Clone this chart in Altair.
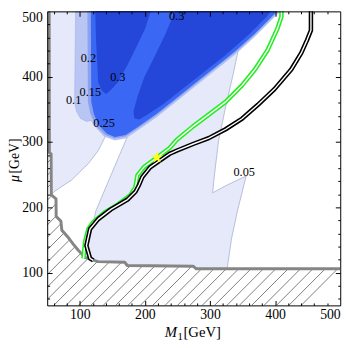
import altair as alt
import numpy as np
import pandas as pd

W, H = 299, 300
xs = alt.Scale(domain=[50, 500], nice=False, zero=False)
ys = alt.Scale(domain=[50, 500], nice=False, zero=False)

# ---------------- data (M1, mu in GeV) ----------------
lav_x = [50, 50, 327, 326, 333, 342, 349.5, 355.5, 339, 324, 304, 307, 313, 324, 334.5, 343.5, 348, 354]
lav_y = [502, 50, 50, 104, 152, 194, 224, 248, 240.3, 233, 222.3, 251, 301, 354, 399, 441, 466, 502]

wedge_x = [56, 60.5, 87.6, 113.2, 128.3, 140.3, 173.4, 125, 120.7, 113.2, 108.2, 105.7, 105.7, 56]
wedge_y = [219, 224, 242, 267, 286.7, 310.6, 309, 195.4, 177.4, 167, 147.5, 122, 100, 100]

c10_x = [93.6, 92.1, 95.2, 101.2, 110.2, 117.7, 122.2, 137.3, 153.8, 170.4, 188.5, 218.6, 248.7, 278.8, 308.9, 339, 369, 399, 410]
c10_y = [502, 361.5, 346.6, 336.1, 331.6, 333.1, 325.6, 309.1, 303.1, 306.1, 318.1, 339.1, 363, 387, 410.9, 434.9, 461.8, 491.8, 502]

c15_x = [111.7, 112.5, 116.2, 124.5, 138.8, 153.8, 170.4, 188.5, 218.6, 248.7, 278.8, 308.9, 339, 369, 399, 407]
c15_y = [502, 361.5, 343.6, 324.9, 310.6, 305.4, 308.4, 320.4, 341.4, 365.3, 389.2, 413.2, 437.1, 464.1, 494, 502]

c25_x = [117, 117.7, 121.8, 129.3, 141.8, 153.8, 170.4, 188.5, 218.6, 248.7, 278.8, 308.9, 339, 369, 399, 404.5]
c25_y = [502, 361.5, 342.5, 325.6, 312.6, 307.6, 310.6, 322.6, 343.6, 367.5, 391.5, 415.4, 439.4, 466.3, 496.3, 502]

c30a_x = [123.7, 125.2, 128.3, 134.3, 140.3, 147.8, 158.4, 173.4, 188.5, 200.5, 209.5]
c30a_y = [502, 451.4, 391.5, 378, 373.5, 379.5, 391.5, 418.4, 448.4, 473.8, 502]

c30b_x = [247.2, 230.6, 214, 199, 188.5, 182.4, 184, 191.5, 206.5, 229, 259.2, 293.8, 324, 361.5, 387, 394.5]
c30b_y = [502, 463.3, 429, 399, 369, 346.6, 336, 334.6, 343.6, 358.5, 382.5, 409.4, 433.4, 466.3, 491.8, 502]

hatch_x = [50, 53, 53.3, 56, 56.3, 63.5, 63.8, 71, 72.5, 83, 90.6, 98, 109, 128, 169, 173, 274, 279, 500]
hatch_y = [502, 502, 284, 282, 219, 213, 186, 179, 165, 153, 143, 134, 123, 117, 116, 111, 110, 106, 106]

green_x = [105.7, 108.2, 113.2, 120.7, 138.3, 158.4, 178, 185.5, 188.5, 198.5, 218.6, 238, 248.7, 274, 298, 324, 349.5, 369, 388.6, 403.7, 409.7, 409.7]
green_y = [122, 147.5, 167, 177.4, 192.4, 204.3, 219, 231, 249, 261.7, 276.2, 291, 303, 324, 342, 361.5, 387, 411, 441, 474, 492, 502]

black_x = [120.7, 115.8, 110.2, 115.8, 128.3, 147.8, 173.4, 185.5, 191, 196, 208, 223, 238, 248.7, 274, 298, 324, 349.5, 373.6, 399, 424.7, 440, 449, 455, 455, 455]
black_y = [119, 122, 141.5, 167, 182, 197, 212, 224, 234.3, 246.3, 261.3, 271.7, 282, 286.7, 297, 306, 319.6, 336, 357, 381, 411, 436, 456, 471, 492, 502]

star_x = [218.6]
star_y = [276.2]

lab_text = ["0.3", "0.2", "0.3", "0.1", "0.15", "0.25", "0.05"]
lab_x = [248.7, 113.2, 158.4, 90.6, 116.2, 137.3, 352.5]
lab_y = [493.3, 428.9, 399, 364.5, 376.5, 328.6, 253.7]

tick_labels = [100, 200, 300, 400, 500]
tick_all = list(range(60, 500, 20))
hatch_step = 19

# ---------------- helpers ----------------
SERIF = "Liberation Serif"
cond_size = {"condition": {"test": "datum.value % 100 === 0", "value": 5}, "value": 2.5}
top_label_shift = {"condition": {"test": "datum.value === 500", "value": 6}, "value": 0}

ax_lab_x = alt.Axis(orient="bottom", values=tick_labels, ticks=False, tickSize=0, labelFont=SERIF,
                    labelFontSize=14, labelColor="black", labelPadding=2, domain=True,
                    domainColor="black", domainWidth=1, grid=False, title=None, zindex=1)
ax_lab_y = alt.Axis(orient="left", values=tick_labels, ticks=False, tickSize=0, labelFont=SERIF,
                    labelFontSize=14, labelColor="black", labelPadding=5, domain=True,
                    labelOffset=top_label_shift,
                    domainColor="black", domainWidth=1, grid=False, title=None, zindex=1)
ax_tb = alt.Axis(orient="top", offset=-H, values=tick_all, labels=False, domain=False, grid=False,
                 tickColor="black", tickWidth=1, tickSize=cond_size, title=None, zindex=1)
ax_tt = alt.Axis(orient="bottom", offset=-H, values=tick_all, labels=False, domain=True,
                 domainColor="black", domainWidth=1, grid=False,
                 tickColor="black", tickWidth=1, tickSize=cond_size, title=None, zindex=1)
ax_tl = alt.Axis(orient="right", offset=-W, values=tick_all, labels=False, domain=False, grid=False,
                 tickColor="black", tickWidth=1, tickSize=cond_size, title=None, zindex=1)
ax_tr = alt.Axis(orient="left", offset=-W, values=tick_all, labels=False, domain=True,
                 domainColor="black", domainWidth=1, grid=False,
                 tickColor="black", tickWidth=1, tickSize=cond_size, title=None, zindex=1)


def frame(px, py):
    return pd.DataFrame({"x": px, "y": py, "o": list(range(len(px)))})


def poly(px, py, fill, stroke=None, sw=0.0, xaxis=None, yaxis=None):
    return alt.Chart(frame(px, py)).mark_line(
        fill=fill, stroke=stroke if stroke else fill, strokeWidth=sw if stroke else 0,
        clip=True, interpolate="linear", strokeJoin="round"
    ).encode(x=alt.X("x:Q", scale=xs, axis=xaxis), y=alt.Y("y:Q", scale=ys, axis=yaxis),
             order="o:Q")


def curve(px, py, color, width):
    return alt.Chart(frame(px, py)).mark_line(
        color=color, strokeWidth=width, clip=True, strokeJoin="round", strokeCap="butt"
    ).encode(x=alt.X("x:Q", scale=xs, axis=None), y=alt.Y("y:Q", scale=ys, axis=None),
             order="o:Q")


# ---------------- hatch segments clipped to hatched region ----------------
gx = np.array(hatch_x, dtype=float)
gy = np.array(hatch_y, dtype=float)
grid = np.linspace(50, 500, 9001)
gvals = np.interp(grid, gx, gy)
segs = []
for c in np.arange(-450 + 3, 450, hatch_step):
    if c >= 0:
        x0, y0 = 50.0, 50.0 + c
    else:
        x0, y0 = 50.0 - c, 50.0
    if x0 >= 500 or y0 >= 500:
        continue
    m = (grid >= x0) & (grid + c >= gvals)
    if not m.any():
        continue
    x1 = grid[np.argmax(m)]
    if x1 <= x0:
        continue
    segs.append({"x": x0, "y": y0, "x2": x1, "y2": x1 + c})
hatch_df = pd.DataFrame(segs)

# ---------------- layers ----------------
lav = poly(lav_x, lav_y, "#E5E9FA", stroke="#A9B0D2", sw=0.8, xaxis=ax_lab_x, yaxis=ax_lab_y)
wedge = poly(wedge_x, wedge_y, "#FFFFFF", stroke="#A9B0D2", sw=0.8, xaxis=ax_tb, yaxis=ax_tl)
b10 = poly(c10_x, c10_y, "#B9C5F3", stroke="#A3B2EC", sw=0.6, xaxis=ax_tt, yaxis=ax_tr)
b15 = poly(c15_x, c15_y, "#8AA2F0")
b25 = poly(c25_x, c25_y, "#3A67F3")
b30a = poly(c30a_x, c30a_y, "#2447D9")
b30b = poly(c30b_x, c30b_y, "#2447D9")

hatch_fill = alt.Chart(pd.DataFrame({"x": hatch_x, "y": hatch_y})).mark_area(
    color="white", clip=True, interpolate="linear"
).encode(x=alt.X("x:Q", scale=xs, axis=None), y=alt.Y("y:Q", scale=ys, axis=None), y2=alt.datum(50))

hatch_lines = alt.Chart(hatch_df).mark_rule(color="#6E6E6E", strokeWidth=0.9, clip=True).encode(
    x=alt.X("x:Q", scale=xs, axis=None), y=alt.Y("y:Q", scale=ys, axis=None), x2="x2:Q", y2="y2:Q")

hatch_edge = curve(hatch_x, hatch_y, "#858585", 3)

g1 = curve(green_x, green_y, "#22EE22", 4.6)
g2 = curve(green_x, green_y, "white", 1.4)
k1 = curve(black_x, black_y, "black", 4.6)
k2 = curve(black_x, black_y, "white", 1.4)

STAR = ("M0,-1L0.2245,-0.309L0.951,-0.309L0.363,0.118L0.588,0.809L0,0.382"
        "L-0.588,0.809L-0.363,0.118L-0.951,-0.309L-0.2245,-0.309Z")
star = alt.Chart(pd.DataFrame({"x": star_x, "y": star_y})).mark_point(
    shape=STAR, filled=True, color="#FFFF1A", size=170, opacity=1, clip=True
).encode(x=alt.X("x:Q", scale=xs, axis=None), y=alt.Y("y:Q", scale=ys, axis=None))

labels = alt.Chart(pd.DataFrame({"x": lab_x, "y": lab_y, "t": lab_text})).mark_text(
    font=SERIF, fontSize=12.5, color="black", align="center", baseline="middle", clip=True
).encode(x=alt.X("x:Q", scale=xs, axis=None), y=alt.Y("y:Q", scale=ys, axis=None), text="t:N")

# axis titles (real text, italic symbols as in the original)
tdf = pd.DataFrame({"a": [0]})
t_M = alt.Chart(tdf).mark_text(text="M", font=SERIF, fontSize=15, fontStyle="italic", align="left",
                               baseline="alphabetic", color="black").encode(x=alt.value(120), y=alt.value(332))
t_1 = alt.Chart(tdf).mark_text(text="1", font=SERIF, fontSize=11, align="left",
                               baseline="alphabetic", color="black").encode(x=alt.value(133), y=alt.value(335))
t_G = alt.Chart(tdf).mark_text(text="[GeV]", font=SERIF, fontSize=15, align="left",
                               baseline="alphabetic", color="black").encode(x=alt.value(139), y=alt.value(332))
t_mu = alt.Chart(tdf).mark_text(text="μ", font=SERIF, fontSize=14, fontStyle="italic", align="left",
                                baseline="alphabetic", angle=270, color="black").encode(x=alt.value(-28.5), y=alt.value(174))
t_G2 = alt.Chart(tdf).mark_text(text="[GeV]", font=SERIF, fontSize=14, align="left",
                                baseline="alphabetic", angle=270, color="black").encode(x=alt.value(-28.5), y=alt.value(165.5))

chart = alt.layer(
    lav, wedge, b10, b15, b25, b30a, b30b,
    hatch_fill, hatch_lines, hatch_edge,
    g1, g2, k1, k2, star, labels,
    t_M, t_1, t_G, t_mu, t_G2,
).resolve_axis(x="independent", y="independent").properties(
    width=W, height=H,
    autosize=alt.AutoSizeParams(type="none"),
    padding={"left": 40, "top": 0, "right": 12, "bottom": 38},
).configure_view(strokeWidth=0)

chart.save("out.html", embed_options={"renderer": "svg", "actions": False})
